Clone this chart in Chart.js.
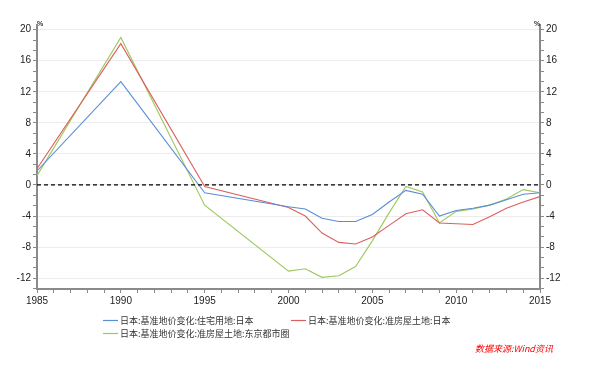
<!DOCTYPE html>
<html>
<head>
<meta charset="utf-8">
<script src="https://cdn.jsdelivr.net/npm/chart.js@4/dist/chart.umd.min.js"></script>
<style>
html,body{margin:0;padding:0;background:#fff;}
#wrap{position:relative;width:600px;height:366px;}
</style>
</head>
<body>
<div id="wrap"><canvas id="c" width="600" height="366"></canvas></div>
<script>
const years = [1985,1990,1995,2000,2001,2002,2003,2004,2005,2006,2007,2008,2009,2010,2011,2012,2013,2014,2015];
const residential = [1.8,13.3,-1.0,-2.8,-3.1,-4.3,-4.7,-4.7,-3.8,-2.2,-0.7,-1.2,-4.0,-3.3,-3.0,-2.6,-1.9,-1.2,-1.0];
const commercialJapan = [2.1,18.2,-0.2,-2.9,-4.0,-6.2,-7.4,-7.6,-6.7,-5.2,-3.7,-3.2,-4.9,-5.0,-5.1,-4.1,-3.0,-2.2,-1.5];
const commercialTokyo = [1.2,19.0,-2.6,-11.1,-10.8,-11.9,-11.7,-10.5,-7.2,-3.6,-0.2,-0.9,-4.9,-3.4,-3.1,-2.6,-1.8,-0.6,-1.0];
const seriesNames = ['日本:基准地价变化:住宅用地:日本','日本:基准地价变化:准房屋土地:日本','日本:基准地价变化:准房屋土地:东京都市圈'];
const seriesColors = ['#5a8ed6','#dc5f5f','#9dc85c'];
const yTickLabels = [-12,-8,-4,0,4,8,12,16,20];
const xTickLabels = [1985,1990,1995,2000,2005,2010,2015];
const unitLabel = '%';
const sourceNote = '数据来源:Wind资讯';

const toPts = arr => years.map((y,i)=>({x:y,y:arr[i]}));
const AXIS = '#8a8a8a';
const FONT = {family:'"Liberation Sans", Arial, sans-serif', size:10};

function yTicks(scale){
  const t=[];
  for(let k=-10;k<=15;k++){ const v=k*4/3; if(v>=scale.min-1e-9 && v<=scale.max+1e-9) t.push({value:v}); }
  scale.ticks=t;
}
const isMajorY = v => Math.abs(v/4-Math.round(v/4))<1e-6 && yTickLabels.includes(Math.round(v));
const yLabel = v => isMajorY(v) ? String(Math.round(v)) : '';

const overlay = {
  id:'overlay',
  afterDraw(chart){
    const ctx=chart.ctx, ca=chart.chartArea;
    ctx.save();
    ctx.fillStyle='#333'; ctx.font='bold 7px "Liberation Sans", Arial, sans-serif';
    ctx.textAlign='center'; ctx.textBaseline='middle';
    ctx.fillText(unitLabel, ca.left+3, ca.top-1);
    ctx.fillText(unitLabel, ca.right-3, ca.top-1);
    const items=[{x:103,y:320},{x:291,y:320},{x:103,y:333}];
    ctx.font='9px "Noto Sans CJK SC", sans-serif';
    ctx.textAlign='left';
    items.forEach((p,i)=>{
      ctx.strokeStyle=seriesColors[i]; ctx.lineWidth=1.2;
      ctx.beginPath(); ctx.moveTo(p.x,p.y+0.5); ctx.lineTo(p.x+15,p.y+0.5); ctx.stroke();
      ctx.fillStyle='#333';
      ctx.fillText(seriesNames[i], p.x+17, p.y+1);
    });
    ctx.fillStyle='#ff0000'; ctx.font='italic 9px "Noto Sans CJK SC", sans-serif';
    ctx.fillText(sourceNote, 475, 349);
    ctx.restore();
  }
};

new Chart(document.getElementById('c'),{
  type:'line',
  data:{
    datasets:[
      {label:seriesNames[0],data:toPts(residential),borderColor:seriesColors[0],backgroundColor:seriesColors[0],borderWidth:1.1,pointRadius:0,tension:0,order:2},
      {label:seriesNames[1],data:toPts(commercialJapan),borderColor:seriesColors[1],backgroundColor:seriesColors[1],borderWidth:1.1,pointRadius:0,tension:0,order:3},
      {label:seriesNames[2],data:toPts(commercialTokyo),borderColor:seriesColors[2],backgroundColor:seriesColors[2],borderWidth:1.1,pointRadius:0,tension:0,order:4},
      {label:'zero',data:[{x:years[0],y:0},{x:years[years.length-1],y:0}],borderColor:'#000',borderWidth:1.2,borderDash:[4,3],pointRadius:0,order:1}
    ]
  },
  options:{
    responsive:false, animation:false,
    layout:{padding:{top:25,left:0,right:0,bottom:0}},
    plugins:{legend:{display:false},tooltip:{enabled:false}},
    scales:{
      x:{type:'linear',min:1985,max:2015,
        afterFit(s){s.height=77;},
        ticks:{stepSize:1,autoSkip:false,maxRotation:0,color:'#222',font:FONT,padding:2,
          callback:v=>xTickLabels.includes(v)?String(v):''},
        grid:{drawOnChartArea:false,tickLength:4,tickColor:AXIS},
        border:{color:AXIS,width:2}
      },
      y:{type:'linear',position:'left',min:-13.4,max:20.6,
        afterBuildTicks:yTicks,
        afterFit(s){s.width=37;},
        ticks:{autoSkip:false,color:'#222',font:FONT,padding:2,callback:yLabel},
        grid:{tickLength:4,tickColor:AXIS,lineWidth:1,
          color:c=>isMajorY(c.tick.value)?'#ececec':'rgba(0,0,0,0)'},
        border:{color:AXIS,width:2}
      },
      y1:{type:'linear',position:'right',min:-13.4,max:20.6,
        afterBuildTicks:yTicks,
        afterFit(s){s.width=60;},
        ticks:{autoSkip:false,color:'#222',font:FONT,padding:2,callback:yLabel},
        grid:{drawOnChartArea:false,tickLength:4,tickColor:AXIS},
        border:{color:AXIS,width:2}
      }
    }
  },
  plugins:[overlay]
});
</script>
</body>
</html>
